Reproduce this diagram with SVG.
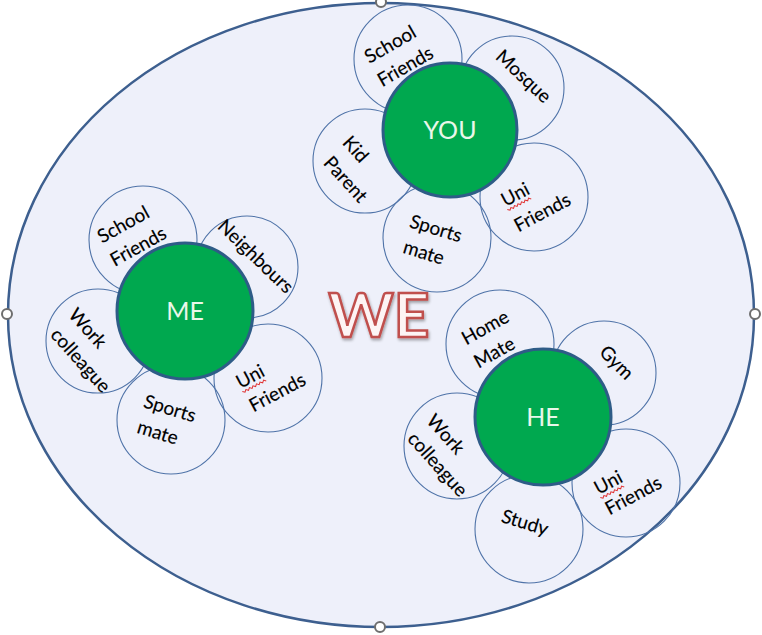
<svg xmlns="http://www.w3.org/2000/svg" width="762" height="635" viewBox="0 0 762 635">
<defs>
<style>
.bg{fill:#ffffff}
.outer{fill:#eef0fa;stroke:#3d5f8f;stroke-width:2.5}
.handle{fill:#ffffff;stroke:#6e6e6e;stroke-width:2}
.petal{fill:none;stroke:#4f73a8;stroke-width:1.1}
.core{fill:#00a84f;stroke:#2e5c87;stroke-width:3}
.core-t{font-family:Lato,"Open Sans",sans-serif;font-size:25px;fill:#e9f7ea;text-anchor:middle}
.pt{font-family:Lato,"Open Sans",sans-serif;font-size:19px;fill:#000;stroke:#000;stroke-width:0.15;text-anchor:middle}
.we{font-family:Lato,"Open Sans",sans-serif;font-size:62px;font-weight:bold;fill:#fdf4f4;stroke:#c0504d;stroke-width:2.5;text-anchor:middle}
.wave{fill:none;stroke:#e03030;stroke-width:1}
</style>
<filter id="sh" x="-20%" y="-20%" width="140%" height="140%">
<feGaussianBlur in="SourceAlpha" stdDeviation="1.5"/>
<feOffset dx="1" dy="2" result="b"/>
<feComponentTransfer><feFuncA type="linear" slope="0.35"/></feComponentTransfer>
<feMerge><feMergeNode/><feMergeNode in="SourceGraphic"/></feMerge>
</filter>
</defs>
<rect class="bg" width="762" height="635"/>
<g id="frame">
<ellipse class="outer" cx="381" cy="315" rx="373" ry="312"/>
<circle class="handle" cx="381" cy="2" r="5"/>
<circle class="handle" cx="7" cy="314" r="5"/>
<circle class="handle" cx="755" cy="314" r="5"/>
<circle class="handle" cx="380" cy="627" r="5"/>
</g>
<g id="we">
<text class="we" x="379" y="337" filter="url(#sh)">WE</text>
</g>
<g id="connectors"/>

<g id="you">
<g id="you-school"><circle class="petal" cx="408" cy="59" r="54"/>
<text class="pt" transform="translate(390,44) rotate(-30)" y="7">School</text>
<text class="pt" transform="translate(405,66) rotate(-30)" y="7">Friends</text></g>
<g id="you-mosque"><circle class="petal" cx="512" cy="88" r="52"/>
<text class="pt" transform="translate(524,76) rotate(43)" y="7">Mosque</text></g>
<g id="you-kid"><circle class="petal" cx="365" cy="161" r="52"/>
<text class="pt" transform="translate(356,149) rotate(48)" y="7">Kid</text>
<text class="pt" transform="translate(346,179) rotate(48)" y="7">Parent</text></g>
<g id="you-sports"><circle class="petal" cx="437" cy="238" r="54"/>
<text class="pt" transform="translate(436,228) rotate(17)" y="7">Sports</text>
<text class="pt" transform="translate(424,252) rotate(17)" y="7">mate</text></g>
<g id="you-uni"><circle class="petal" cx="534" cy="197" r="54"/>
<text class="pt" transform="translate(515,194) rotate(-28)" y="7">Uni</text>
<path class="wave" transform="translate(515,194) rotate(-28)" d="M-14,10 l2,2 l2,-2 l2,2 l2,-2 l2,2 l2,-2 l2,2 l2,-2 l2,2 l2,-2 l2,2 l2,-2 l2,2"/>
<text class="pt" transform="translate(542,212) rotate(-28)" y="7">Friends</text></g>
<g id="you-core"><circle class="core" cx="450" cy="130" r="67"/>
<text class="core-t" x="450" y="139">YOU</text></g>
</g>

<g id="me">
<g id="me-school"><circle class="petal" cx="143" cy="240" r="54"/>
<text class="pt" transform="translate(123,224) rotate(-29)" y="7">School</text>
<text class="pt" transform="translate(138,246) rotate(-29)" y="7">Friends</text></g>
<g id="me-neigh"><circle class="petal" cx="247" cy="267" r="51"/>
<text class="pt" transform="translate(256,256) rotate(44)" y="7">Neighbours</text></g>
<g id="me-work"><circle class="petal" cx="98" cy="341" r="52"/>
<text class="pt" transform="translate(88,328) rotate(48)" y="7">Work</text>
<text class="pt" transform="translate(81,360) rotate(48)" y="7">colleague</text></g>
<g id="me-sports"><circle class="petal" cx="171" cy="420" r="54"/>
<text class="pt" transform="translate(170,408) rotate(17)" y="7">Sports</text>
<text class="pt" transform="translate(158,432) rotate(17)" y="7">mate</text></g>
<g id="me-uni"><circle class="petal" cx="268" cy="378" r="54"/>
<text class="pt" transform="translate(250,376) rotate(-28)" y="7">Uni</text>
<path class="wave" transform="translate(250,376) rotate(-28)" d="M-14,10 l2,2 l2,-2 l2,2 l2,-2 l2,2 l2,-2 l2,2 l2,-2 l2,2 l2,-2 l2,2 l2,-2 l2,2"/>
<text class="pt" transform="translate(277,392) rotate(-28)" y="7">Friends</text></g>
<g id="me-core"><circle class="core" cx="185" cy="311" r="68"/>
<text class="core-t" x="185" y="320">ME</text></g>
</g>

<g id="he">
<g id="he-home"><circle class="petal" cx="500" cy="344" r="54"/>
<text class="pt" transform="translate(485,327) rotate(-29)" y="7">Home</text>
<text class="pt" transform="translate(494,352) rotate(-29)" y="7">Mate</text></g>
<g id="he-gym"><circle class="petal" cx="604" cy="373" r="52"/>
<text class="pt" transform="translate(617,362) rotate(45)" y="7">Gym</text></g>
<g id="he-work"><circle class="petal" cx="457" cy="446" r="53"/>
<text class="pt" transform="translate(446,434) rotate(48)" y="7">Work</text>
<text class="pt" transform="translate(438,464) rotate(48)" y="7">colleague</text></g>
<g id="he-study"><circle class="petal" cx="529" cy="529" r="54"/>
<text class="pt" transform="translate(525,522) rotate(17)" y="7">Study</text></g>
<g id="he-uni"><circle class="petal" cx="626" cy="483" r="54"/>
<text class="pt" transform="translate(608,482) rotate(-28)" y="7">Uni</text>
<path class="wave" transform="translate(608,482) rotate(-28)" d="M-14,10 l2,2 l2,-2 l2,2 l2,-2 l2,2 l2,-2 l2,2 l2,-2 l2,2 l2,-2 l2,2 l2,-2 l2,2"/>
<text class="pt" transform="translate(633,495) rotate(-28)" y="7">Friends</text></g>
<g id="he-core"><circle class="core" cx="543" cy="417" r="68"/>
<text class="core-t" x="543" y="426">HE</text></g>
</g>
</svg>
